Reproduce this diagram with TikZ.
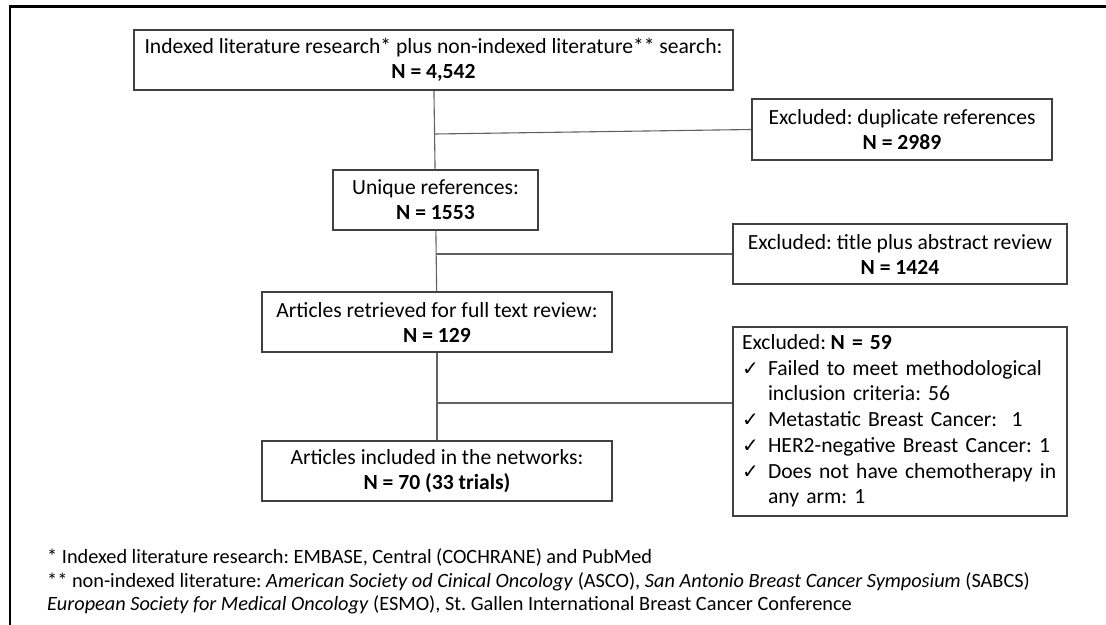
\documentclass[tikz,border=0pt]{standalone}
\usepackage{fontspec}
\setmainfont{Carlito}
\newfontfamily\symf{DejaVu Sans}
\newcommand\chk{\makebox[26pt][l]{\symf\fontsize{20}{20}\selectfont ✓}}
\frenchspacing
\begin{document}
\frenchspacing
\begin{tikzpicture}[x=1pt,y=-1pt,
  box/.style={draw=black!75,line width=1.1pt,align=center,inner sep=0pt,
    font=\fontsize{21.6}{25}\selectfont},
  conn/.style={draw=black!62,line width=1.1pt},
  fnote/.style={anchor=base west,inner sep=0pt,font=\fontsize{20.3}{23}\selectfont}]
\useasboundingbox (0,0) rectangle (1106,624);
\fill[white] (0,0) rectangle (1106,624);
\draw[line width=2.4pt,black] (10,630) -- (10,6.5) -- (1112,6.5);

\node[box,minimum width=599pt,minimum height=60pt] (top) at (433.5,60)
  {Indexed literature research* plus non-indexed literature** search:\\\textbf{N = 4,542}};
\node[box,minimum width=300pt,minimum height=61pt] (dup) at (902,129.5)
  {Excluded: duplicate references\\\textbf{N = 2989}};
\node[box,minimum width=205pt,minimum height=60pt] (uniq) at (435.5,200)
  {Unique references:\\\textbf{N = 1553}};
\node[box,minimum width=334pt,minimum height=60pt] (title) at (900,254)
  {Excluded: title plus abstract review\\\textbf{N = 1424}};
\node[box,minimum width=350pt,minimum height=60pt] (artic) at (437,322)
  {Articles retrieved for full text review:\\\textbf{N = 129}};
\node[box,align=left,text width=316pt,inner xsep=9pt,minimum height=189pt] (excl) at (900,421.5)
  {\fontsize{21.6}{25.7}\selectfont\frenchspacing\begin{tabular}{@{}l@{}l@{}}
   \multicolumn{2}{@{}l@{}}{Excluded:\hspace{4.5pt}\textbf{N = 59}}\\
   \chk & Failed to meet methodological\\
        & inclusion criteria: 56\\
   \chk & Metastatic Breast Cancer:\ \ 1\\
   \chk & HER2-negative Breast Cancer: 1\\
   \chk & Does not have chemotherapy in\\
        & any arm: 1
   \end{tabular}};
\node[box,minimum width=350pt,minimum height=60pt] (incl) at (437,471)
  {Articles included in the networks:\\\textbf{N = 70 (33 trials)}};

\coordinate (b1) at (434.5,134);
\coordinate (b2) at (436,254);
\coordinate (b3) at (437,403);
\draw[conn] (top) -- (uniq);
\draw[conn] (uniq) -- (artic);
\draw[conn] (artic) -- (incl);
\draw[conn] (b1) -- (dup.west);
\draw[conn] (b2) -- (title.west);
\draw[conn] (b3) -- (b3 -| excl.west);

\node[fnote] (fn1) at (47,563) {* Indexed literature research: EMBASE, Central (COCHRANE) and PubMed};
\node[fnote] (fn2) at (47,587) {** non-indexed literature: \textit{American Society od Cinical Oncology} (ASCO), \textit{San Antonio Breast Cancer Symposium} (SABCS)};
\node[fnote] (fn3) at (47,610) {\textit{European Society for Medical Oncology} (ESMO), St. Gallen International Breast Cancer Conference};
\end{tikzpicture}
\end{document}
